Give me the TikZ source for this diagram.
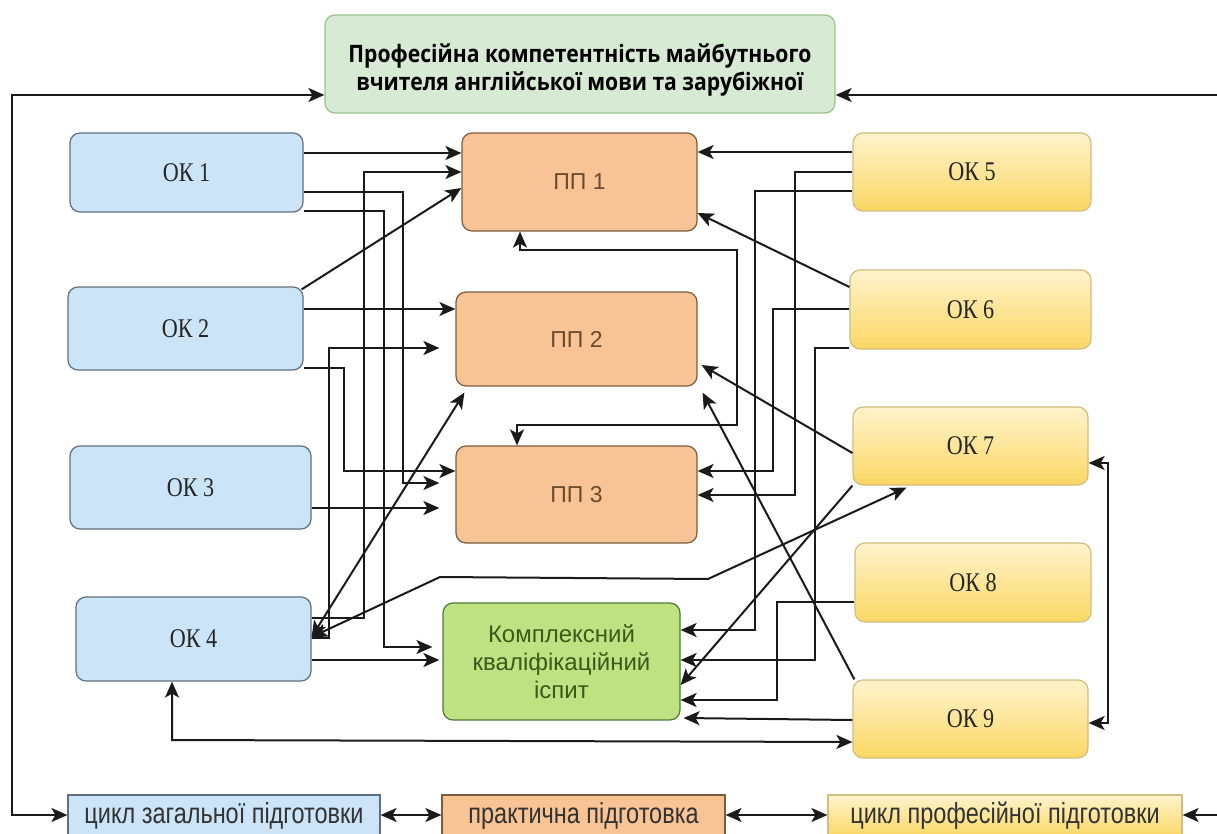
\documentclass[tikz,border=0pt]{standalone}
\usepackage{fontspec}
\setmainfont{Liberation Serif}
\newfontfamily\oksf[FakeStretch=0.82]{Liberation Serif}
\newfontfamily\ppsf{Liberation Sans}
\newfontfamily\titlesf[FakeStretch=0.88]{Open Sans}
\newfontfamily\barsf[FakeStretch=0.81]{Liberation Sans}
\usetikzlibrary{arrows.meta}
\definecolor{blueF}{HTML}{CCE4F7}
\definecolor{blueD}{HTML}{5F6F80}
\definecolor{orF}{HTML}{F8C496}
\definecolor{orD}{HTML}{7A5C3E}
\definecolor{orT}{HTML}{6B4B2B}
\definecolor{yelT}{HTML}{FFF3CC}
\definecolor{yelB}{HTML}{FAD764}
\definecolor{yelD}{HTML}{D2BC7E}
\definecolor{topF}{HTML}{D6EAD4}
\definecolor{topD}{HTML}{9CC18C}
\definecolor{kkF}{HTML}{BEE182}
\definecolor{kkD}{HTML}{4F7A34}
\definecolor{kkT}{HTML}{3A5A1A}
\definecolor{lineC}{HTML}{1A1A1A}
\begin{document}
\begin{tikzpicture}[x=1pt,y=-1pt,
  box/.style={draw, rounded corners=10pt, line width=1.2pt, inner sep=0pt, align=center},
  okl/.style={box, fill=blueF, draw=blueD, text=black!85, font=\oksf\fontsize{27}{30}\selectfont},
  okr/.style={box, top color=yelT, bottom color=yelB, draw=yelD, text=black!85, font=\oksf\fontsize{27}{30}\selectfont},
  ppbox/.style={box, fill=orF, draw=orD, text=orT, font=\ppsf\fontsize{23}{26}\selectfont},
  kkbox/.style={box, fill=kkF, draw=kkD, text=kkT, font=\ppsf\fontsize{24}{28}\selectfont},
  topbox/.style={box, fill=topF, draw=topD, text=black, font=\titlesf\bfseries\fontsize{24}{28}\selectfont},
  barbox/.style={draw, line width=1.2pt, inner sep=0pt, minimum height=42pt, font=\barsf\fontsize{29}{30}\selectfont, text=black!80},
  con/.style={draw=lineC, line width=2pt, -{Stealth[length=16pt,width=14pt,inset=4pt]}},
  bicon/.style={draw=lineC, line width=2pt, {Stealth[length=16pt,width=14pt,inset=4pt]}-{Stealth[length=16pt,width=14pt,inset=4pt]}}
]
\useasboundingbox (0,0) rectangle (1217,834);
\fill[white] (0,0) rectangle (1217,834);
\clip (0,0) rectangle (1217,834);

% nodes
\node[topbox, minimum width=510pt, minimum height=98pt] (top) at (580,64) {\rule{0pt}{30pt}Професійна компетентність майбутнього\\вчителя англійської мови та зарубіжної};

\node[okl, minimum width=233pt, minimum height=79pt] (ok1) at (186.5,172.5) {ОК 1};
\node[okl, minimum width=235pt, minimum height=83pt] (ok2) at (185.5,328.5) {ОК 2};
\node[okl, minimum width=241pt, minimum height=83pt] (ok3) at (190.5,487.5) {ОК 3};
\node[okl, minimum width=235pt, minimum height=84pt] (ok4) at (193.5,639) {ОК 4};

\node[ppbox, minimum width=235pt, minimum height=98pt] (pp1) at (579.5,182) {ПП 1};
\node[ppbox, minimum width=241pt, minimum height=94pt] (pp2) at (576.5,339) {ПП 2};
\node[ppbox, minimum width=241pt, minimum height=97pt] (pp3) at (576.5,494.5) {ПП 3};
\node[kkbox, minimum width=237pt, minimum height=117pt] (kk) at (561.5,661.5) {Комплексний\\кваліфікаційний\\іспит};

\node[okr, minimum width=238pt, minimum height=78pt] (ok5) at (972,172) {ОК 5};
\node[okr, minimum width=241pt, minimum height=79pt] (ok6) at (970.5,309.5) {ОК 6};
\node[okr, minimum width=235pt, minimum height=78pt] (ok7) at (970.5,446) {ОК 7};
\node[okr, minimum width=236pt, minimum height=79pt] (ok8) at (973,582.5) {ОК 8};
\node[okr, minimum width=235pt, minimum height=78pt] (ok9) at (970.5,719) {ОК 9};

\node[barbox, fill=blueF, draw=blueD, minimum width=312pt] (b1) at (224,816) {цикл загальної підготовки};
\node[barbox, fill=orF, draw=orD, minimum width=283pt] (b2) at (583.5,816) {практична підготовка};
\node[barbox, top color=yelT, bottom color=yelB, draw=yelD, minimum width=354pt] (b3) at (1005,816) {цикл професійної підготовки};

\coordinate (r1) at (1217,95);
\coordinate (r2) at (1217,815);

% outer loop
\draw[bicon] (top.west |- 0,95) -- (12,95) -- (12,815) -- (b1.west |- 0,815);
\draw[con] (r1) -- (top.east |- 0,95);
\draw[con] (r2) -- (b3.east |- 0,815);
\draw[bicon] (b1.east |- 0,815) -- (b2.west |- 0,815);
\draw[bicon] (b2.east |- 0,815) -- (b3.west |- 0,815);

% left side
\draw[con] (ok1.east |- 0,153) -- (pp1.west |- 0,153);
\draw[con] (ok4.east |- 0,618) -- (364,618) -- (364,172) -- (pp1.west |- 0,172);
\draw[con] (ok1.east |- 0,192) -- (403,192) -- (403,483) -- ([xshift=-16pt]pp3.west |- 0,483);
\draw[con] (ok1.east |- 0,211) -- (384,211) -- (384,647) -- ([xshift=-10pt]kk.west |- 0,647);
\draw[con] ([xshift=-2pt,yshift=-3pt]ok2.north east) -- (pp1.west |- 0,188);
\draw[con] (ok2.east |- 0,309) -- (pp2.west |- 0,309);
\draw[con] (ok4.east |- 0,638) -- (329,638) -- (329,348) -- ([xshift=-16pt]pp2.west |- 0,348);
\draw[con] (ok2.east |- 0,368) -- (344,368) -- (344,471) -- (pp3.west |- 0,471);
\draw[con] (ok3.east |- 0,508) -- ([xshift=-16pt]pp3.west |- 0,508);
\draw[bicon] (ok4.east |- 0,637) -- ([xshift=9pt,yshift=-6pt]pp2.south west);
\draw[con] (ok4.east |- 0,660) -- ([xshift=-3pt]kk.west |- 0,660);
\draw[bicon] (ok4.east |- 0,637) -- (440,577) -- (708,579) -- ([xshift=54pt,yshift=-2pt]ok7.south west);

% right side
\draw[con] (ok5.west |- 0,152) -- (pp1.east |- 0,152);
\draw[con] (ok5.west |- 0,172) -- (795,172) -- (795,495) -- (pp3.east |- 0,495);
\draw[con] (ok5.west |- 0,191) -- (755,191) -- (755,630) -- (kk.east |- 0,630);
\draw[con] (ok6.west |- 0,287) -- (pp1.east |- 0,213);
\draw[bicon] (pp1.south -| 520,0) -- (520,250) -- (737,250) -- (737,425) -- (517,425) -- (pp3.north -| 517,0);
\draw[con] (ok6.west |- 0,309) -- (773,309) -- (773,471) -- (pp3.east |- 0,471);
\draw[con] (ok6.west |- 0,348) -- (815,348) -- (815,660) -- (kk.east |- 0,660);
\draw[con] (ok7.west |- 0,453) -- ([xshift=4pt]pp2.east |- 0,365);
\draw[con] ([xshift=2pt]ok9.north west) -- ([xshift=5pt,yshift=-6pt]pp2.south east);
\draw[con] (ok7.south west) -- (kk.east |- 0,685);
\draw[con] (ok8.west |- 0,602) -- (777,602) -- (777,700) -- (kk.east |- 0,700);
\draw[con] (ok9.west |- 0,720) -- ([xshift=3pt]kk.east |- 0,718);
\draw[bicon] (ok4.south -| 172,0) -- (172,740) -- (ok9.west |- 0,742);
\draw[bicon] (ok7.east |- 0,463) -- (1108,463) -- (1108,723) -- (ok9.east |- 0,723);
\end{tikzpicture}
\end{document}
